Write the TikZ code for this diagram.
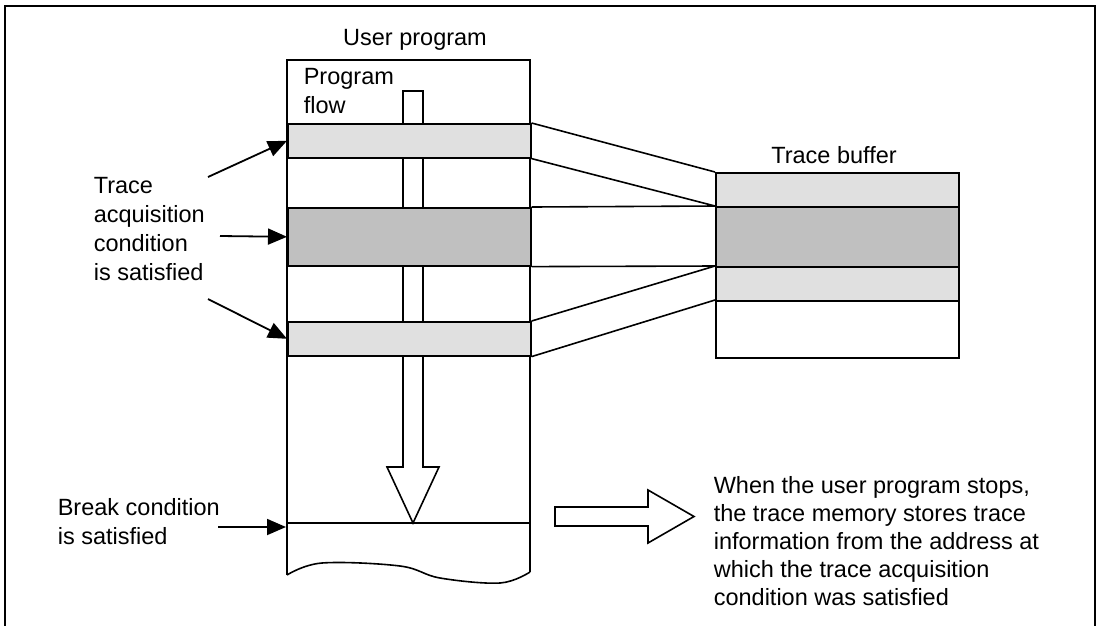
\documentclass[tikz,border=0pt]{standalone}
\usepackage{fontspec}
\setmainfont{Liberation Sans}
\usetikzlibrary{arrows.meta}
\definecolor{lightfill}{HTML}{E0E0E0}
\definecolor{darkfill}{HTML}{C0C0C0}
\begin{document}
\begin{tikzpicture}[x=1pt,y=-1pt, line width=1.6pt, line join=miter,
  lbl/.style={font=\fontsize{23.5}{28.3}\selectfont, inner sep=0pt, align=left},
  pointer/.style={-{Triangle[length=19pt,width=16pt]}, line width=1.8pt},
  bandbox/.style={draw=black, inner sep=0pt, minimum width=243pt, anchor=north west},
  lightband/.style={bandbox, fill=lightfill},
  darkband/.style={bandbox, fill=darkfill},
  whiteband/.style={bandbox, fill=white}]
\useasboundingbox (0,0) rectangle (1101,625);
% outer frame
\draw (5,640) -- (5,6) -- (1095,6) -- (1095,640);

% user program box
\coordinate (upBL) at (287,575);
\coordinate (upTL) at (287,60);
\coordinate (upTR) at (530,60);
\coordinate (upBR) at (530,572);
\draw (upBL) -- (upTL) -- (upTR) -- (upBR);
\draw plot[smooth, tension=0.6] coordinates {(287,575) (322,563) (400,566) (440,578) (500,583) (530,572)};

% program flow arrow
\draw[fill=white] (403,91) -- (423,91) -- (423,467) -- (439,467) -- (413,523) -- (387,467) -- (403,467) -- cycle;

% bands in user program
\node[lightband, minimum height=34pt] (b1) at (287,123) {};
\node[darkband, minimum height=58pt] (b2) at (287,207) {};
\node[lightband, minimum height=34pt] (b3) at (287,321) {};

% break line
\coordinate (brkL) at (287,523);
\coordinate (brkR) at (530,523);
\coordinate (brkT) at (286,527);
\draw (brkL) -- (brkR);

% trace buffer
\node[lightband, minimum height=34pt] (r1) at (715,172) {};
\node[darkband, minimum height=60pt] (r2) at (715,206) {};
\node[lightband, minimum height=34pt] (r3) at (715,266) {};
\node[whiteband, minimum height=57pt] (r4) at (715,300) {};

% connectors
\draw (b1.north east) -- (r1.north west);
\draw (b1.south east) -- (r2.north west);
\draw (b2.north east) -- (r2.north west);
\draw (b2.south east) -- (r3.north west);
\draw (b3.north east) -- (r3.north west);
\draw (b3.south east) -- (r4.north west);

% big right arrow
\draw (555,507) -- (648,507) -- (648,490) -- (694,516.5) -- (648,543) -- (648,526) -- (555,526) -- cycle;

% texts (base anchor = baseline of last line)
\node[lbl, anchor=base] (uptitle) at (415,45) {User program};
\node[lbl, anchor=base west] (pflow) at (303,113) {Program\\flow};
\node[lbl, anchor=base] (tbtitle) at (834,163) {Trace buffer};
\node[lbl, anchor=base west, font=\fontsize{23.5}{29}\selectfont] (tac) at (93,280) {Trace\\acquisition\\condition\\is satisfied};
\node[lbl, anchor=base west] (brk) at (57,544) {Break condition\\is satisfied};
\node[lbl, anchor=base west, font=\fontsize{23.5}{28}\selectfont] (note) at (713,605) {When the user program stops,\\the trace memory stores trace\\information from the address at\\which the trace acquisition\\condition was satisfied};

% pointers
\coordinate (p1s) at (208,177);
\coordinate (p2s) at (220,236);
\coordinate (p3s) at (208,299);
\coordinate (p4s) at (218,527);
\draw[pointer] (p1s) -- (b1.west);
\draw[pointer] (p2s) -- (b2.west);
\draw[pointer] (p3s) -- (b3.west);
\draw[pointer] (p4s) -- (brkT);
\end{tikzpicture}
\end{document}
